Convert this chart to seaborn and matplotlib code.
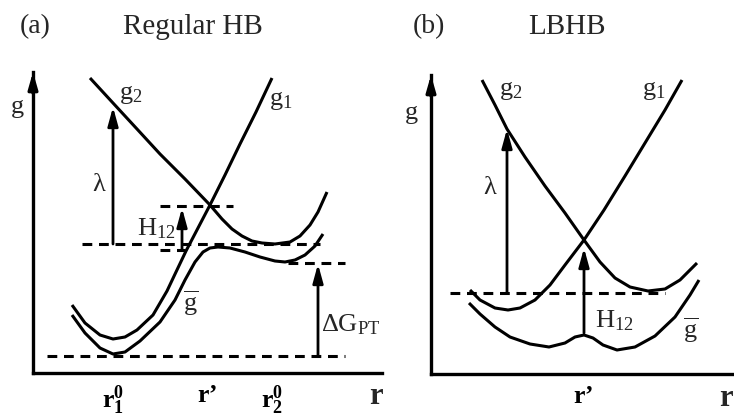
import matplotlib
matplotlib.use("Agg")
import matplotlib.pyplot as plt
import seaborn as sns

# ---------------- data (r position, free energy height above r-axis) -------------
# Panel (a): Regular HB
a_g1_r = [72, 85, 100, 113, 125, 137, 153, 167, 176, 186, 198, 210, 225, 240, 256, 272]
a_g1_g = [68, 50, 38, 34, 36, 43, 58, 82, 101, 122, 145, 168, 198, 229, 261, 295]
a_g2_r = [90, 113, 137, 160, 185, 210, 222, 232, 242, 252, 262, 275, 290, 300, 310, 318, 327]
a_g2_g = [295, 270, 244, 219, 194, 168, 154, 144, 137, 132, 130, 129, 131, 137, 148, 161, 181]
a_gb_r = [72, 85, 100, 113, 125, 140, 160, 175, 185, 195, 203, 210, 218, 230, 245, 260, 275, 285, 295, 305, 315, 323]
a_gb_g = [58, 40, 25, 19, 21, 32, 51, 73, 93, 111, 121, 125, 126, 125, 121, 116, 112, 111, 113, 118, 127, 139]
a_ticks = [113, 208, 272]
a_ticklabels = [r"$\mathbf{r}_\mathbf{1}^\mathbf{0}$", "r’", r"$\mathbf{r}_\mathbf{2}^\mathbf{0}$"]
# dashed levels: (g, r_start, r_end)
a_levels = [(17, 47, 345), (129, 82, 320), (167, 160, 233), (123, 160, 185), (110, 288, 345)]
# arrows: (r, g_from, g_to)
a_arrows = [(113, 129, 266), (182, 123, 165), (318, 18, 109)]

# Panel (b): LBHB
b_g1_r = [470, 480, 495, 508, 520, 535, 550, 565, 584, 604, 625, 645, 665, 682]
b_g1_g = [84, 74, 66, 64, 66, 74, 89, 109, 134, 164, 198, 231, 264, 294]
b_g2_r = [482, 495, 507, 525, 545, 565, 584, 600, 615, 630, 648, 665, 680, 697]
b_g2_g = [294, 269, 245, 217, 188, 161, 134, 112, 96, 87, 83, 85, 94, 111]
b_gb_r = [469, 480, 495, 510, 530, 549, 565, 575, 584, 593, 603, 617, 635, 655, 675, 690, 699]
b_gb_g = [71, 60, 47, 37, 30, 27, 31, 37, 39, 36, 29, 24, 27, 38, 57, 79, 94]
b_ticks = [584]
b_ticklabels = ["r’"]
b_levels = [(81, 450, 665)]
b_arrows = [(507, 81, 245), (584, 41, 126)]

# ---------------- style -------------
sns.set_style("white")
plt.rcParams["font.family"] = ["Liberation Serif", "DejaVu Serif"]
plt.rcParams["mathtext.fontset"] = "custom"
plt.rcParams["mathtext.rm"] = "Liberation Serif"
plt.rcParams["mathtext.it"] = "Liberation Serif:italic"
plt.rcParams["mathtext.bf"] = "Liberation Serif:bold"

W, H = 734, 417
fig = plt.figure(figsize=(W / 100, H / 100), dpi=100)
fig.patch.set_facecolor("white")


def px_axes(x0, x1, ytop, ybot):
    return fig.add_axes([x0 / W, 1 - ybot / H, (x1 - x0) / W, (ybot - ytop) / H])


LW = 2.2
FS = 19


def setup(ax, xlim, ylim, ticks, labels):
    ax.set_xlim(*xlim)
    ax.set_ylim(*ylim)
    ax.set_facecolor("none")
    for s in ["top", "right"]:
        ax.spines[s].set_visible(False)
    for s in ["left", "bottom"]:
        ax.spines[s].set_linewidth(2.4)
        ax.spines[s].set_color("black")
    ax.set_yticks([])
    ax.set_xticks(ticks)
    ax.set_xticklabels(labels, fontsize=18.5, fontweight="bold")
    ax.tick_params(axis="x", direction="inout", length=12, width=1.8, pad=2, colors="black")
    ax.annotate("", xy=(0, 1.0), xytext=(0, 0.93), xycoords="axes fraction",
                arrowprops=dict(arrowstyle="-|>,head_length=0.7,head_width=0.2",
                                lw=2.4, color="black", mutation_scale=14,
                                shrinkA=0, shrinkB=0))


def draw_curves(ax, curves):
    for r, g in curves:
        sns.lineplot(x=r, y=g, ax=ax, color="black", lw=LW, sort=False,
                     solid_joinstyle="round", solid_capstyle="butt", zorder=3)


def draw_levels(ax, levels):
    for g, r0, r1 in levels:
        ax.hlines(g, r0, r1, colors="black", lw=LW, linestyles=(0, (3.2, 2.2)), zorder=2)


def draw_arrows(ax, arrows):
    for r, g0, g1 in arrows:
        ax.annotate("", xy=(r, g1), xytext=(r, g0),
                    arrowprops=dict(arrowstyle="-|>,head_length=0.8,head_width=0.22",
                                    lw=2.0, color="black", mutation_scale=14,
                                    shrinkA=0, shrinkB=0), zorder=4)


# ---------------- panel (a) -------------
ax_a = px_axes(33, 382, 72, 373)
setup(ax_a, (33, 382), (0, 301), a_ticks, a_ticklabels)
draw_curves(ax_a, [(a_g1_r, a_g1_g), (a_g2_r, a_g2_g), (a_gb_r, a_gb_g)])
draw_levels(ax_a, a_levels)
draw_arrows(ax_a, a_arrows)

Y0a = 373
ax_a.text(17, Y0a - 107, "g", fontsize=FS, ha="center", va="center")
ax_a.text(131, Y0a - 95, "g$_2$", fontsize=FS, ha="center", va="center")
ax_a.text(281, Y0a - 100, "g$_1$", fontsize=FS, ha="center", va="center")
ax_a.text(99, Y0a - 185, "λ", fontsize=FS, ha="center", va="center")
ax_a.text(156, Y0a - 229, "H$_{12}$", fontsize=FS, ha="center", va="center")
ax_a.text(191, Y0a - 303, r"$\overline{\mathrm{g}}$", fontsize=FS, ha="center", va="center")
ax_a.text(321, Y0a - 325, "ΔG$_{\\mathrm{PT}}$", fontsize=FS, ha="left", va="center")
ax_a.text(376, Y0a - 397, "r", fontsize=22, fontweight="bold", ha="center", va="center")

# ---------------- panel (b) -------------
ax_b = px_axes(431, 734, 75, 374)
setup(ax_b, (431, 734), (0, 299), b_ticks, b_ticklabels)
draw_curves(ax_b, [(b_g1_r, b_g1_g), (b_g2_r, b_g2_g), (b_gb_r, b_gb_g)])
draw_levels(ax_b, b_levels)
draw_arrows(ax_b, b_arrows)

Y0b = 374
ax_b.text(411, Y0b - 113, "g", fontsize=FS, ha="center", va="center")
ax_b.text(511, Y0b - 91, "g$_2$", fontsize=FS, ha="center", va="center")
ax_b.text(654, Y0b - 91, "g$_1$", fontsize=FS, ha="center", va="center")
ax_b.text(490, Y0b - 188, "λ", fontsize=FS, ha="center", va="center")
ax_b.text(614, Y0b - 321, "H$_{12}$", fontsize=FS, ha="center", va="center")
ax_b.text(691, Y0b - 330, r"$\overline{\mathrm{g}}$", fontsize=FS, ha="center", va="center")
ax_b.text(726, Y0b - 399, "r", fontsize=22, fontweight="bold", ha="center", va="center")

# ---------------- titles -------------
fig.text(35 / W, 1 - 27 / H, "(a)", fontsize=20, ha="center", va="center")
fig.text(193 / W, 1 - 27 / H, "Regular HB", fontsize=21, ha="center", va="center")
fig.text(429 / W, 1 - 27 / H, "(b)", fontsize=20, ha="center", va="center")
fig.text(567 / W, 1 - 27 / H, "LBHB", fontsize=21, ha="center", va="center")

fig.savefig("out.png", dpi=100, facecolor="white")
